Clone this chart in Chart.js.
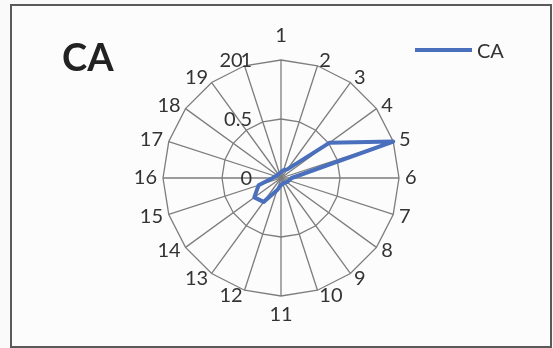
<!DOCTYPE html>
<html>
<head>
<meta charset="utf-8">
<script src="https://cdn.jsdelivr.net/npm/chart.js@4/dist/chart.umd.min.js"></script>
<style>
  html, body { margin: 0; padding: 0; background: #fafafa; }
  #wrap { position: relative; width: 553px; height: 348px; overflow: hidden; }
  #frame { position: absolute; left: 10px; top: 4px; width: 538px; height: 340px;
           border: 2px solid #5a5a5a; background: #fcfcfc; }
  #chart { position: absolute; left: 0; top: 0; }
  #title { position: absolute; left: 62px; top: 37px; font: bold 38px Lato, sans-serif;
           line-height: 1; color: #222; }
  #legend { position: absolute; left: 415px; top: 38px; height: 24px; display: flex; align-items: center;
            font: 20px Lato, sans-serif; color: #333; }
  #legend .swatch { width: 57px; height: 4px; margin-right: 5px; }
</style>
</head>
<body>
<div id="wrap">
  <div id="frame"></div>
  <canvas id="chart" width="553" height="348"></canvas>
  <div id="title">CA</div>
  <div id="legend"><span class="swatch"></span><span class="name"></span></div>
</div>
<script>
// Spokes 1..20 around the radar
const categories = ['1','2','3','4','5','6','7','8','9','10','11','12','13','14','15','16','17','18','19','20'];
// CA series, one value per spoke
const seriesName = 'CA';
const caValues = [0.05, 0.07, 0.09, 0.51, 1.0, 0.09, 0.07, 0.06, 0.05, 0.05,
                  0.06, 0.11, 0.25, 0.28, 0.20, 0.07, 0.05, 0.04, 0.04, 0.04];
// Radial axis ticks
const tickValues = [0, 0.5, 1];
const tickLabels = ['0', '0.5', '1'];

const lineColor = '#4a70bd';
const textColor = '#333333';
const gridColor = '#7d7d7d';
const labelFont = '20px Lato, sans-serif';

document.querySelector('#legend .swatch').style.background = lineColor;
document.querySelector('#legend .name').textContent = seriesName;

// Spoke labels and value labels placed like a spreadsheet radar chart
const radarText = {
  id: 'radarText',
  afterDraw(chart) {
    const s = chart.scales.r;
    const ctx = chart.ctx;
    const R = s.drawingArea;
    ctx.save();
    ctx.font = labelFont;
    ctx.fillStyle = textColor;
    ctx.textBaseline = 'middle';
    chart.data.labels.forEach((lab, i) => {
      const deg = Math.round(s.getIndexAngle(i) * 180 / Math.PI) % 360;
      const p = s.getPointPosition(i, R + 6);
      let y = p.y;
      let align;
      if (deg === 0) { align = 'center'; y -= 18; }
      else if (deg === 180) { align = 'center'; y += 13; }
      else if (deg < 180) { align = 'left'; }
      else { align = 'right'; }
      ctx.textAlign = align;
      ctx.fillText(lab, p.x, y);
    });
    ctx.textAlign = 'right';
    tickValues.forEach((v, i) => {
      const d = s.getDistanceFromCenterForValue(v);
      ctx.fillText(tickLabels[i], s.xCenter - 29, s.yCenter - d + 1);
    });
    ctx.restore();
  }
};

new Chart(document.getElementById('chart'), {
  type: 'radar',
  data: {
    labels: categories,
    datasets: [{
      label: seriesName,
      data: caValues,
      borderColor: lineColor,
      backgroundColor: 'transparent',
      borderWidth: 4,
      borderJoinStyle: 'round',
      fill: false,
      pointRadius: 0,
      pointHoverRadius: 0
    }]
  },
  options: {
    responsive: false,
    animation: false,
    layout: { padding: { left: 131, right: 122, top: 60, bottom: 52 } },
    plugins: { legend: { display: false }, title: { display: false }, tooltip: { enabled: false } },
    scales: {
      r: {
        min: 0,
        max: 1,
        afterBuildTicks: s => { s.ticks = tickValues.map(v => ({ value: v })); },
        ticks: { display: false },
        pointLabels: { display: false },
        grid: { color: gridColor, lineWidth: 1.3, circular: false },
        angleLines: { color: gridColor, lineWidth: 1.3 }
      }
    }
  },
  plugins: [radarText]
});
</script>
</body>
</html>
